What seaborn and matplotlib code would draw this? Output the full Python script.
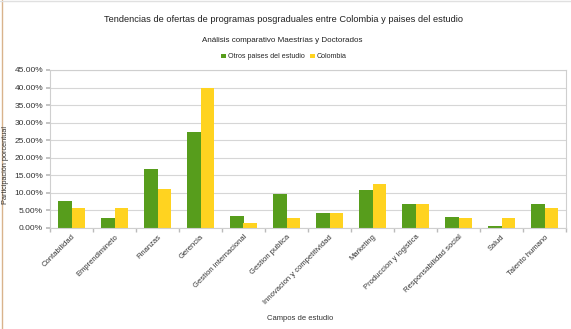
import matplotlib
matplotlib.use("Agg")
import matplotlib.pyplot as plt
import seaborn as sns
import pandas as pd
from matplotlib.patches import Patch
from matplotlib.ticker import FuncFormatter, MultipleLocator, FixedLocator

categorias = ["Contabilidad", "Emprendimineto", "Finanzas", "Gerencia",
              "Gestion internacional", "Gestion publica", "Innovacion y competitividad",
              "Marketing", "Produccion y logistica", "Responsabilidad social",
              "Salud", "Talento humano"]
otros = [7.8, 2.8, 16.8, 27.3, 3.4, 9.7, 4.4, 10.9, 6.8, 3.1, 0.7, 6.8]
colombia = [5.6, 5.6, 11.1, 39.8, 1.4, 2.8, 4.2, 12.5, 6.9, 2.8, 2.8, 5.6]
series = ["Otros paises del estudio", "Colombia"]
colores = ["#579d1c", "#ffd320"]

df = pd.DataFrame({
    "Campo": categorias * 2,
    "Serie": [series[0]] * len(categorias) + [series[1]] * len(categorias),
    "Valor": otros + colombia,
})

sns.set_theme(style="white")
plt.rcParams["font.family"] = ["Liberation Sans", "DejaVu Sans"]

fig = plt.figure(figsize=(5.71, 3.29), dpi=100)
ax = fig.add_axes([50 / 571, 101 / 329, 516 / 571, 158 / 329])

sns.barplot(data=df, x="Campo", y="Valor", hue="Serie", palette=colores,
            width=0.65, gap=0, ax=ax, legend=False, saturation=1, edgecolor="none")

ax.set_ylim(0, 45)
ax.set_xlim(-0.5, len(categorias) - 0.5)
ax.yaxis.set_major_locator(MultipleLocator(5))
ax.yaxis.set_major_formatter(FuncFormatter(lambda v, p: f"{v:.2f}%"))
ax.grid(axis="y", color="#d6d6d6", linewidth=0.8)
ax.set_axisbelow(True)
for s in ax.spines.values():
    s.set_color("#cfcfcf")
    s.set_linewidth(0.8)

ax.tick_params(axis="y", labelsize=6, length=3, pad=2, left=True, colors="#bbbbbb")
for t in ax.get_yticklabels():
    t.set_color("#333333")
ax.set_xticks(range(len(categorias)))
ax.set_xticklabels(categorias, rotation=45, ha="right", rotation_mode="anchor",
                   fontsize=5.5, color="#333333")
ax.tick_params(axis="x", length=0, pad=4)
ax.xaxis.set_minor_locator(FixedLocator([i - 0.5 for i in range(len(categorias) + 1)]))
ax.tick_params(axis="x", which="minor", length=3, color="#bbbbbb", bottom=True)

ax.set_xlabel("")
ax.set_ylabel("")
fig.text(6 / 571, 1 - 165 / 329, "Participación porcentual", rotation=90,
         fontsize=5.3, ha="center", va="center", color="#333333")
fig.text(300 / 571, 1 - 318 / 329, "Campos de estudio", fontsize=5.5,
         ha="center", va="center", color="#333333")

fig.text(284 / 571, 1 - 19 / 329,
         "Tendencias de ofertas de programas posgraduales entre Colombia y paises del estudio",
         fontsize=6.7, ha="center", va="center", color="#222222")
fig.text(282 / 571, 1 - 40 / 329, "Análisis comparativo Maestrías y Doctorados",
         fontsize=5.8, ha="center", va="center", color="#222222")

handles = [Patch(facecolor=c, edgecolor="none") for c in colores]
fig.legend(handles, series, loc="center", bbox_to_anchor=(284 / 571, 1 - 57 / 329),
           ncol=2, frameon=False, fontsize=5.1, handlelength=0.6, handleheight=0.6,
           handletextpad=0.3, columnspacing=0.8)

fig.add_artist(plt.Line2D([1.5 / 571, 1.5 / 571], [0, 1], color="#d9b38c", linewidth=1,
                          transform=fig.transFigure))
fig.add_artist(plt.Line2D([0, 1], [1 - 1 / 329, 1 - 1 / 329], color="#e0e0e0", linewidth=1,
                          transform=fig.transFigure))

fig.savefig("out.png", dpi=100)
